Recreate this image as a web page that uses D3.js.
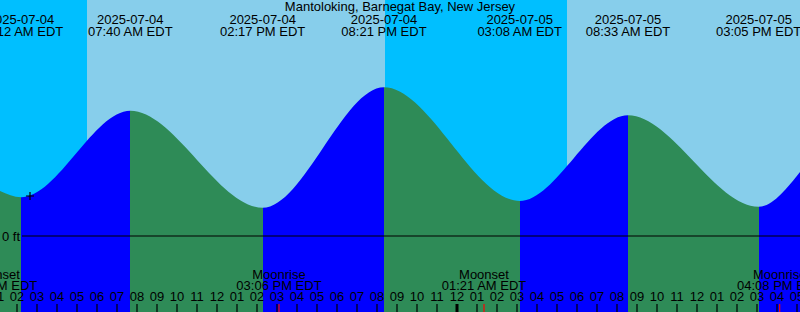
<!DOCTYPE html>
<html>
<head>
<meta charset="utf-8">
<script src="https://cdn.jsdelivr.net/npm/d3@7"></script>
<style>
  html, body { margin: 0; padding: 0; background: #fff; }
  svg { display: block; }
  text { font-family: "Liberation Sans", Arial, sans-serif; font-size: 13px; fill: #000; }
</style>
</head>
<body>
<svg id="chart" width="800" height="312"></svg>
<script>
// ---- Data ----
const title = "Mantoloking, Barnegat Bay, New Jersey";
const windowTimes = ["2025-07-04T01:09", "2025-07-05T17:09"];
const tideTimes = ["2025-07-04T02:12", "2025-07-04T07:40", "2025-07-04T14:17", "2025-07-04T20:21",
                   "2025-07-05T03:08", "2025-07-05T08:33", "2025-07-05T15:05"];
const tideHeights = [0.155, 0.501, 0.113, 0.595, 0.140, 0.483, 0.117];   // ft
const tideTypes = ["Low", "High", "Low", "High", "Low", "High", "Low"];
const edgeHeights = [0.180, 0.256];   // ft at window start / end
const sunTimes = ["2025-07-04T05:30", "2025-07-04T20:24", "2025-07-05T05:30", "2025-07-05T20:24"];
const sunEvents = ["Sunrise", "Sunset", "Sunrise", "Sunset"];
const moonTimes = ["2025-07-04T00:54", "2025-07-04T15:06", "2025-07-05T01:21", "2025-07-05T16:08"];
const moonEvents = ["Moonset", "Moonrise", "Moonset", "Moonrise"];
const markTime = "2025-07-04T02:39";
const markHeight = 0.16;
const zeroLabel = "0 ft";
const tz = "EDT";

// ---- Setup ----
const W = 800, H = 312;
const parse = d3.utcParse("%Y-%m-%dT%H:%M");
const t0 = parse(windowTimes[0]), t1 = parse(windowTimes[1]);
const x = d3.scaleUtc().domain([t0, t1]).range([0, W]);
const y = d3.scaleLinear().domain([0, 1]).range([236, -14]);
const fmtDate = d3.utcFormat("%Y-%m-%d");
const fmtTime = d3.utcFormat("%I:%M %p");
const fmtHour = d3.utcFormat("%I");

const svg = d3.select("#chart");
const colors = { day: "#87CEEB", night: "#00BFFF", flood: "#0000FF", ebb: "#2E8B57" };

// ---- Day / night background ----
const sun = sunTimes.map((s, i) => ({ t: parse(s), e: sunEvents[i] }));
const bounds = [t0, ...sun.map(d => d.t).filter(t => t > t0 && t < t1), t1];
for (let i = 0; i < bounds.length - 1; i++) {
  const mid = new Date((+bounds[i] + +bounds[i + 1]) / 2);
  // determine day/night: last sun event before mid
  const prev = sun.filter(d => d.t <= mid);
  const isDay = prev.length ? prev[prev.length - 1].e === "Sunrise" : false;
  svg.append("rect")
    .attr("x", x(bounds[i])).attr("y", 0)
    .attr("width", x(bounds[i + 1]) - x(bounds[i])).attr("height", H)
    .attr("fill", isDay ? colors.day : colors.night);
}

// ---- Tide curve ----
const pts = [{ t: t0, h: edgeHeights[0] },
  ...tideTimes.map((s, i) => ({ t: parse(s), h: tideHeights[i], type: tideTypes[i] })),
  { t: t1, h: edgeHeights[1] }];

const area = d3.area().x(d => x(d.t)).y0(H).y1(d => y(d.h)).curve(d3.curveMonotoneX);
svg.append("clipPath").attr("id", "water").append("path").attr("d", area(pts));

const water = svg.append("g").attr("clip-path", "url(#water)");
for (let i = 0; i < pts.length - 1; i++) {
  const rising = pts[i + 1].h > pts[i].h;
  water.append("rect")
    .attr("x", x(pts[i].t)).attr("y", 0)
    .attr("width", x(pts[i + 1].t) - x(pts[i].t)).attr("height", H)
    .attr("fill", rising ? colors.flood : colors.ebb)
    .attr("shape-rendering", "crispEdges");
}

// ---- Zero line ----
svg.append("line")
  .attr("x1", 22).attr("x2", W).attr("y1", y(0)).attr("y2", y(0))
  .attr("stroke", "#000").attr("stroke-width", 1.2);
svg.append("text").attr("x", 20).attr("y", y(0) + 5).attr("text-anchor", "end").text(zeroLabel);

// ---- Current-time mark ----
const mx = x(parse(markTime)), my = y(markHeight);
svg.append("path")
  .attr("d", `M${mx - 4},${my}H${mx + 4}M${mx},${my - 4}V${my + 4}`)
  .attr("stroke", "#000").attr("stroke-width", 1.2).attr("fill", "none");

// ---- Title ----
svg.append("text").attr("x", W / 2).attr("y", 10.5).attr("text-anchor", "middle").text(title);

// ---- Tide event labels ----
const ev = svg.append("g").attr("text-anchor", "middle");
pts.filter(d => d.type).forEach(d => {
  ev.append("text").attr("x", x(d.t)).attr("y", 23.5).text(fmtDate(d.t));
  ev.append("text").attr("x", x(d.t)).attr("y", 36).text(fmtTime(d.t) + " " + tz);
});

// ---- Hour axis ----
const hours = d3.utcHour.range(d3.utcHour.ceil(d3.utcHour.offset(t0, -1)), d3.utcHour.offset(t1, 1));
const ax = svg.append("g");
hours.forEach(h => {
  const isMidnight = h.getUTCHours() === 0;
  ax.append("line")
    .attr("x1", x(h)).attr("x2", x(h)).attr("y1", 304).attr("y2", H)
    .attr("stroke", "#000").attr("stroke-width", isMidnight ? 3 : 1.2);
  ax.append("text").attr("x", x(h)).attr("y", 300.5).attr("text-anchor", "middle").text(fmtHour(h));
});

// ---- Moon events ----
const moon = svg.append("g").attr("text-anchor", "middle");
moonTimes.forEach((s, i) => {
  const t = parse(s);
  moon.append("text").attr("x", x(t)).attr("y", 278.5).text(moonEvents[i]);
  moon.append("text").attr("x", x(t)).attr("y", 289.5).text(fmtTime(t) + " " + tz);
  moon.append("line").attr("x1", x(t)).attr("x2", x(t)).attr("y1", 304).attr("y2", H)
    .attr("stroke", "#FF0000").attr("stroke-width", 1.2);
});
</script>
</body>
</html>
